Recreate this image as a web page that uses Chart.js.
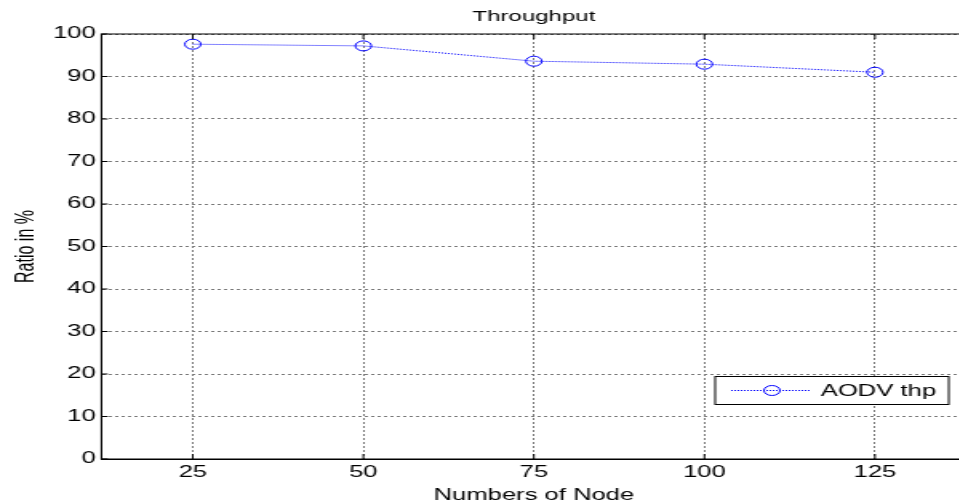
<!DOCTYPE html>
<html>
<head>
<meta charset="utf-8">
<script src="https://cdn.jsdelivr.net/npm/chart.js@4/dist/chart.umd.min.js"></script>
<style>
    body { margin: 0; background: white; overflow: hidden; }
    #caixa { width: 959px; height: 502px; overflow: hidden; }
</style>
</head>
<body>
<!-- the original figure is stretched sideways, so the canvas is drawn narrow and widened -->
<div id="caixa"><canvas id="grafico" width="610" height="502" style="width: 976px; height: 502px;"></canvas></div>
<script>
var nos = [25, 50, 75, 100, 125]
var vazao = [97.6, 97.2, 93.6, 92.9, 91.0]
var ticks_x = [25, 50, 75, 100, 125]
var ticks_y = [0, 10, 20, 30, 40, 50, 60, 70, 80, 90, 100]
var nome_serie = 'AODV thp'

var fonte = "'Liberation Sans', Arial, Helvetica, sans-serif"

// box around the plot plus the small inner tick marks
var moldura = {
    id: 'moldura',
    afterDraw(chart) {
        var ctx = chart.ctx
        var area = chart.chartArea
        var sx = chart.scales.x
        var sy = chart.scales.y
        ctx.save()
        ctx.strokeStyle = 'black'
        ctx.lineWidth = 1
        ctx.setLineDash([])
        ctx.strokeRect(area.left, area.top, area.right - area.left, area.bottom - area.top)
        ctx.beginPath()
        for (let i = 0; i < ticks_x.length; i++) {
            var px = sx.getPixelForValue(ticks_x[i])
            ctx.moveTo(px, area.bottom)
            ctx.lineTo(px, area.bottom - 5)
            ctx.moveTo(px, area.top)
            ctx.lineTo(px, area.top + 5)
        }
        for (let i = 0; i < ticks_y.length; i++) {
            var py = sy.getPixelForValue(ticks_y[i])
            ctx.moveTo(area.left, py)
            ctx.lineTo(area.left + 4, py)
            ctx.moveTo(area.right, py)
            ctx.lineTo(area.right - 4, py)
        }
        ctx.stroke()
        ctx.restore()
    }
}

// matlab style legend box, bottom right inside the axes
var legenda = {
    id: 'legenda',
    afterDraw(chart) {
        var ctx = chart.ctx
        var area = chart.chartArea
        var ds = chart.data.datasets[0]
        var direita = area.right - 11
        var baixo = area.bottom - 54.5
        var largura = 146
        var altura = 28
        var esq = direita - largura
        var topo = baixo - altura
        var meio = topo + altura / 2

        ctx.save()
        ctx.fillStyle = 'white'
        ctx.fillRect(esq, topo, largura, altura)
        ctx.strokeStyle = 'black'
        ctx.lineWidth = 1
        ctx.strokeRect(esq, topo, largura, altura)

        ctx.strokeStyle = ds.borderColor
        ctx.lineWidth = ds.borderWidth
        ctx.setLineDash(ds.borderDash)
        ctx.beginPath()
        ctx.moveTo(esq + 10, meio)
        ctx.lineTo(esq + 60, meio)
        ctx.stroke()

        ctx.setLineDash([])
        ctx.strokeStyle = ds.pointBorderColor
        ctx.beginPath()
        ctx.arc(esq + 35.5, meio, ds.pointRadius, 0, Math.PI * 2)
        ctx.stroke()

        ctx.fillStyle = 'black'
        ctx.font = '16px ' + fonte
        ctx.textBaseline = 'middle'
        ctx.textAlign = 'left'
        ctx.fillText(ds.label, esq + 66, meio + 1)
        ctx.restore()
    }
}

function montarGrafico() {

    var pontos = []
    for (let i = 0; i < nos.length; i++) {
        pontos.push({ x: nos[i], y: vazao[i] })
    }

    var ctx = document.getElementById('grafico').getContext('2d')
    var grafico = new Chart(ctx, {
        type: 'line',
        data: {
            datasets: [{
                label: nome_serie,
                data: pontos,
                borderColor: '#0000ff',
                borderWidth: 1,
                borderDash: [1, 1],
                pointRadius: 5,
                pointHoverRadius: 5,
                pointBorderColor: '#0000ff',
                pointBackgroundColor: 'rgba(0,0,0,0)',
                pointBorderWidth: 1,
                tension: 0,
                fill: false
            }]
        },
        options: {
            responsive: false,
            devicePixelRatio: 1,
            animation: false,
            layout: { padding: { left: 0, right: 5, top: 0, bottom: 0 } },
            scales: {
                x: {
                    type: 'linear',
                    min: 11.6,
                    max: 138.4,
                    afterBuildTicks: (eixo) => {
                        eixo.ticks = ticks_x.map((v) => ({ value: v }))
                    },
                    grid: { color: '#7a7a7a', drawTicks: false },
                    border: { display: true, color: 'black', width: 1, dash: [2, 2] },
                    ticks: { color: 'black', padding: 7, maxRotation: 0, font: { size: 16, lineHeight: 0.8, family: fonte } },
                    title: {
                        display: true,
                        text: 'Numbers of Node',
                        color: 'black',
                        padding: { top: 0, bottom: -3 },
                        font: { size: 16, family: fonte }
                    }
                },
                y: {
                    min: 0,
                    max: 100,
                    afterBuildTicks: (eixo) => {
                        eixo.ticks = ticks_y.map((v) => ({ value: v }))
                    },
                    grid: { color: '#7a7a7a', drawTicks: false },
                    border: { display: true, color: 'black', width: 1, dash: [2, 2] },
                    ticks: { color: 'black', padding: 3.5, font: { size: 16, family: fonte } },
                    title: {
                        display: true,
                        text: 'Ratio in %',
                        color: 'black',
                        padding: { top: 7, bottom: 3.5 },
                        font: { size: 16, family: fonte }
                    }
                }
            },
            plugins: {
                legend: { display: false },
                tooltip: { enabled: false },
                title: {
                    display: true,
                    // only as wide as the axes, so it centres over the plot like matlab
                    fullSize: false,
                    text: 'Throughput',
                    color: 'black',
                    padding: { top: 8, bottom: 8 },
                    font: { size: 15, weight: 'normal', family: fonte }
                }
            }
        },
        plugins: [moldura, legenda]
    })
}

montarGrafico()
</script>
</body>
</html>
